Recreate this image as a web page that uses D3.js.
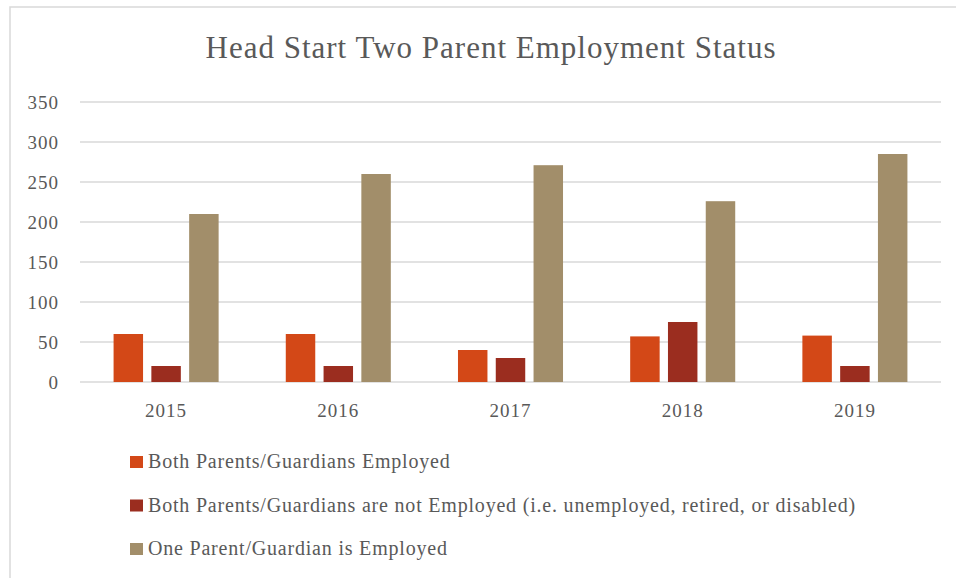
<!DOCTYPE html>
<html>
<head>
<meta charset="utf-8">
<script src="https://cdn.jsdelivr.net/npm/d3@7"></script>
<style>
    body { margin: 0; background: #fff; }
    text { font-family: "Liberation Serif", "Times New Roman", serif; fill: #595959; }
</style>
</head>
<body>
<div class="canvas"></div>
<script>
// Data
const years = ['2015', '2016', '2017', '2018', '2019'];
const seriesNames = [
    'Both Parents/Guardians Employed',
    'Both Parents/Guardians are not Employed (i.e. unemployed, retired, or disabled)',
    'One Parent/Guardian is Employed'
];
const bothEmployed = [60, 60, 40, 57, 58];
const bothNotEmployed = [20, 20, 30, 75, 20];
const oneEmployed = [210, 260, 271, 226, 285];
const yTicks = [0, 50, 100, 150, 200, 250, 300, 350];
const colours = ['#D34817', '#9B2D1F', '#A28E6A'];

const seriesValues = [bothEmployed, bothNotEmployed, oneEmployed];

// Dimensions
const dims = {
    width: 956,
    height: 578,
    left: 80,
    right: 941,
    top: 102,
    bottom: 382
};

const svg = d3.select('.canvas')
    .append('svg')
    .attr('width', dims.width)
    .attr('height', dims.height);

// Chart frame
svg.append('rect')
    .attr('x', 10)
    .attr('y', 7)
    .attr('width', dims.width + 20)
    .attr('height', dims.height + 20)
    .attr('fill', 'none')
    .attr('stroke', '#d9d9d9')
    .attr('stroke-width', 1.5);

// Title
svg.append('text')
    .attr('x', 491)
    .attr('y', 58)
    .attr('text-anchor', 'middle')
    .attr('font-size', 31)
    .attr('letter-spacing', 1)
    .text('Head Start Two Parent Employment Status');

// Scales
const y = d3.scaleLinear()
    .domain([0, 350])
    .range([dims.bottom, dims.top]);

const x0 = d3.scaleBand()
    .domain(years)
    .range([dims.left, dims.right])
    .paddingInner(0.39)
    .paddingOuter(0.195);

const x1 = d3.scaleBand()
    .domain(d3.range(seriesNames.length))
    .range([0, x0.bandwidth()])
    .paddingInner(0.22);

// Gridlines
svg.append('g')
    .selectAll('line')
    .data(yTicks)
    .enter()
    .append('line')
        .attr('x1', dims.left)
        .attr('x2', dims.right)
        .attr('y1', d => y(d))
        .attr('y2', d => y(d))
        .attr('stroke', '#d9d9d9')
        .attr('stroke-width', 1.5);

// Y axis labels
const yAxis = d3.axisLeft(y)
    .tickValues(yTicks)
    .tickSize(0)
    .tickPadding(0);

svg.append('g')
    .attr('transform', `translate(59, 0)`)
    .call(yAxis)
    .call(g => g.select('.domain').remove())
    .selectAll('text')
        .attr('font-size', 19)
        .attr('letter-spacing', 1)
        .attr('font-family', '"Liberation Serif", serif')
        .attr('fill', '#595959');

// X axis labels
const xAxis = d3.axisBottom(x0)
    .tickSize(0)
    .tickPadding(0);

svg.append('g')
    .attr('transform', `translate(0, 403)`)
    .call(xAxis)
    .call(g => g.select('.domain').remove())
    .selectAll('text')
        .attr('font-size', 19)
        .attr('letter-spacing', 1)
        .attr('font-family', '"Liberation Serif", serif')
        .attr('fill', '#595959');

// Bars
const rows = [];
years.forEach((year, i) => {
    seriesValues.forEach((vals, s) => {
        rows.push({ year: year, series: s, value: vals[i] });
    });
});

svg.append('g')
    .selectAll('rect')
    .data(rows)
    .enter()
    .append('rect')
        .attr('x', d => x0(d.year) + x1(d.series))
        .attr('y', d => y(d.value))
        .attr('width', x1.bandwidth())
        .attr('height', d => y(0) - y(d.value))
        .attr('fill', d => colours[d.series]);

// Legend
const legend = svg.append('g')
    .selectAll('g')
    .data(seriesNames)
    .enter()
    .append('g')
        .attr('transform', (d, i) => `translate(130, ${468 + i * 43.5})`);

legend.append('rect')
    .attr('y', -12)
    .attr('width', 13)
    .attr('height', 12)
    .attr('fill', (d, i) => colours[i]);

legend.append('text')
    .attr('x', 18)
    .attr('font-size', 20)
    .attr('letter-spacing', 0.8)
    .text(d => d);
</script>
</body>
</html>
